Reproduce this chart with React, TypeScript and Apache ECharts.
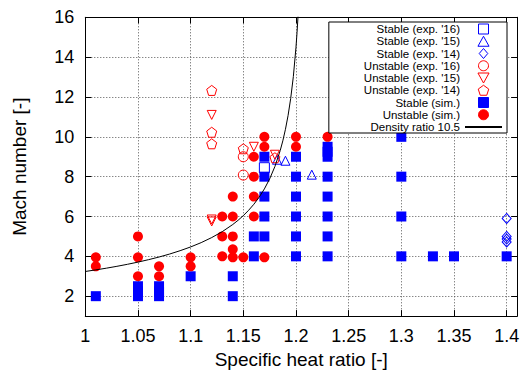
import React, { useEffect, useRef } from 'react';
import * as echarts from 'echarts';

// ---- data ----
const yTickValues = [2, 4, 6, 8, 10, 12, 14, 16];

const stableExp16 = [[1.17, 8.45]];
const stableExp15 = [[1.182, 8.85], [1.19, 8.8], [1.215, 8.1]];
const stableExp14 = [[1.4, 5.9], [1.4, 5.0], [1.4, 4.87], [1.4, 4.72]];
const unstableExp16 = [[1.15, 9.0], [1.15, 8.08]];
const unstableExp15 = [[1.12, 11.1], [1.12, 5.85], [1.12, 5.75], [1.16, 9.5], [1.18, 9.1]];
const unstableExp14 = [[1.12, 12.33], [1.12, 10.23], [1.12, 9.65], [1.15, 9.4], [1.18, 8.95]];

const stableSim = [
  [1.01, 2], [1.05, 2], [1.05, 2.25], [1.05, 2.5], [1.07, 2], [1.07, 2.25], [1.07, 2.5],
  [1.1, 3], [1.14, 2], [1.14, 3], [1.16, 4], [1.16, 5],
  [1.17, 5], [1.17, 6], [1.17, 7], [1.17, 8], [1.17, 9],
  [1.2, 4], [1.2, 5], [1.2, 6], [1.2, 7], [1.2, 8], [1.2, 9],
  [1.23, 4], [1.23, 5], [1.23, 6], [1.23, 7], [1.23, 8], [1.23, 9], [1.23, 9.25], [1.23, 9.5],
  [1.3, 4], [1.3, 6], [1.3, 8], [1.3, 10], [1.33, 4], [1.35, 4], [1.4, 4],
];

const unstableSim = [
  [1.01, 3.5], [1.01, 3.95], [1.05, 3], [1.05, 3.95], [1.05, 5], [1.07, 3], [1.07, 3.5],
  [1.1, 3.5], [1.1, 3.95], [1.13, 4], [1.13, 5], [1.13, 6],
  [1.14, 3.95], [1.14, 4.35], [1.14, 5], [1.14, 6], [1.14, 7], [1.15, 3.95],
  [1.16, 6], [1.16, 7], [1.16, 8], [1.16, 9], [1.17, 3.95], [1.17, 9.5], [1.17, 10],
  [1.2, 9.5], [1.2, 10], [1.23, 10],
];

const densityCurve = [
  [1.0, 3.24], [1.01, 3.32], [1.02, 3.406], [1.03, 3.499], [1.04, 3.6], [1.05, 3.711],
  [1.06, 3.832], [1.07, 3.966], [1.08, 4.115], [1.09, 4.283], [1.1, 4.472], [1.11, 4.689],
  [1.12, 4.942], [1.13, 5.239], [1.14, 5.598], [1.145, 5.808], [1.15, 6.043], [1.155, 6.31],
  [1.16, 6.614], [1.165, 6.968], [1.17, 7.385], [1.175, 7.888], [1.18, 8.51], [1.185, 9.306],
  [1.1875, 9.798], [1.19, 10.377], [1.1925, 11.074], [1.195, 11.932], [1.1975, 13.027],
  [1.2, 14.491], [1.201, 15.233], [1.202, 16.1],
];

const FONT = '"Liberation Sans", Arial, Helvetica, sans-serif';
const BLUE = '#0000ff';
const RED = '#ff0000';
const CLEAR = 'rgba(255,255,255,0)';
const PENTAGON = 'path://M0,-1L0.951,-0.309L0.588,0.809L-0.588,0.809L-0.951,-0.309Z';
const INV_TRI = 'path://M0,0L2,0L1,1.8Z';
const TRI = 'path://M1,0L2,1.8L0,1.8Z';
const SQUARE = 'path://M0,0L1,0L1,1L0,1Z';
const DIAMOND = 'path://M1,0L1.9,1.05L1,2.1L0.1,1.05Z';

const open = (c: string) => ({ color: CLEAR, borderColor: c, borderWidth: 1, opacity: 1 });
const filled = (c: string) => ({ color: c, borderColor: c, borderWidth: 0, opacity: 1 });

export default function App() {
  const ref = useRef<HTMLDivElement>(null);
  useEffect(() => {
    if (!ref.current) return;
    const chart = echarts.init(ref.current, null, { renderer: 'svg' });
    const gridLine = { show: true, lineStyle: { color: '#555', type: [1, 2] as any, width: 1 } };
    const option: any = {
      animation: false,
      backgroundColor: '#fff',
      textStyle: { fontFamily: FONT },
      grid: { left: 85.3, right: 6.8, top: 17.3, bottom: 56.7, containLabel: false },
      xAxis: [
        {
          type: 'value', min: 1, max: 1.41, interval: 0.05,
          name: 'Specific heat ratio [-]', nameLocation: 'middle', nameGap: 32,
          nameTextStyle: { fontSize: 19, color: '#000', fontFamily: FONT },
          axisLine: { show: true, lineStyle: { color: '#000', width: 1 } },
          axisTick: { show: true, inside: true, length: 6, lineStyle: { color: '#000' } },
          axisLabel: { fontSize: 18, color: '#000', margin: 11, fontFamily: FONT,
            formatter: (v: number) => String(Math.round(v * 100) / 100) },
          splitLine: gridLine,
        },
        {
          type: 'value', min: 1, max: 1.41, interval: 0.05, position: 'top',
          axisLine: { show: true, lineStyle: { color: '#000', width: 1 } },
          axisTick: { show: true, inside: true, length: 6, lineStyle: { color: '#000' } },
          axisLabel: { show: false }, splitLine: { show: false },
        },
      ],
      yAxis: [
        {
          type: 'value', min: 1, max: 16,
          name: 'Mach number [-]', nameLocation: 'middle', nameGap: 56,
          nameTextStyle: { fontSize: 19, color: '#000', fontFamily: FONT },
          axisLine: { show: true, lineStyle: { color: '#000', width: 1 } },
          axisTick: { show: true, inside: true, length: 6, lineStyle: { color: '#000' }, customValues: yTickValues },
          axisLabel: { fontSize: 18, color: '#000', margin: 11, fontFamily: FONT, customValues: yTickValues },
          splitLine: gridLine,
        },
        {
          type: 'value', min: 1, max: 16, position: 'right',
          axisLine: { show: true, lineStyle: { color: '#000', width: 1 } },
          axisTick: { show: true, inside: true, length: 6, lineStyle: { color: '#000' }, customValues: yTickValues },
          axisLabel: { show: false, customValues: yTickValues }, splitLine: { show: false },
        },
      ],
      legend: {
        orient: 'vertical', align: 'right', right: 17, top: 22,
        padding: [1, 4, 0, 35], itemGap: 0.25, itemWidth: 37, itemHeight: 10,
        symbolKeepAspect: true,
        itemStyle: { borderWidth: 1 },
        backgroundColor: '#fff', borderColor: '#000', borderWidth: 1,
        textStyle: { fontSize: 11.5, lineHeight: 11, color: '#000', fontFamily: FONT },
        selectedMode: false,
        data: [
          { name: "Stable (exp. '16)", icon: SQUARE },
          { name: "Stable (exp. '15)", icon: TRI },
          { name: "Stable (exp. '14)", icon: DIAMOND },
          { name: "Unstable (exp. '16)", icon: 'circle' },
          { name: "Unstable (exp. '15)", icon: INV_TRI },
          { name: "Unstable (exp. '14)", icon: PENTAGON },
          { name: 'Stable (sim.)', icon: SQUARE },
          { name: 'Unstable (sim.)', icon: 'circle' },
          { name: 'Density ratio 10.5' },
        ],
      },
      series: [
        { name: "Stable (exp. '16)", type: 'scatter', data: stableExp16, symbol: 'rect', symbolSize: 10, itemStyle: open(BLUE) },
        { name: "Stable (exp. '15)", type: 'scatter', data: stableExp15, symbol: 'triangle', symbolSize: 9, itemStyle: open(BLUE) },
        { name: "Stable (exp. '14)", type: 'scatter', data: stableExp14, symbol: 'diamond', symbolSize: [9, 10], itemStyle: open(BLUE) },
        { name: "Unstable (exp. '16)", type: 'scatter', data: unstableExp16, symbol: 'circle', symbolSize: 10, itemStyle: open(RED) },
        { name: "Unstable (exp. '15)", type: 'scatter', data: unstableExp15, symbol: 'triangle', symbolRotate: 180, symbolSize: 9, itemStyle: open(RED) },
        { name: "Unstable (exp. '14)", type: 'scatter', data: unstableExp14, symbol: PENTAGON, symbolSize: 10, itemStyle: open(RED) },
        { name: 'Stable (sim.)', type: 'scatter', data: stableSim, symbol: 'rect', symbolSize: 10, itemStyle: filled(BLUE) },
        { name: 'Unstable (sim.)', type: 'scatter', data: unstableSim, symbol: 'circle', symbolSize: 10, itemStyle: filled(RED) },
        { name: 'Density ratio 10.5', type: 'line', data: densityCurve, symbol: 'none', clip: true,
          lineStyle: { color: '#000', width: 1 }, itemStyle: { color: CLEAR, borderWidth: 0 } },
      ],
    };
    chart.setOption(option);
    return () => chart.dispose();
  }, []);
  return <div ref={ref} style={{ position: 'fixed', left: 0, top: 0, width: 524, height: 374 }} />;
}
